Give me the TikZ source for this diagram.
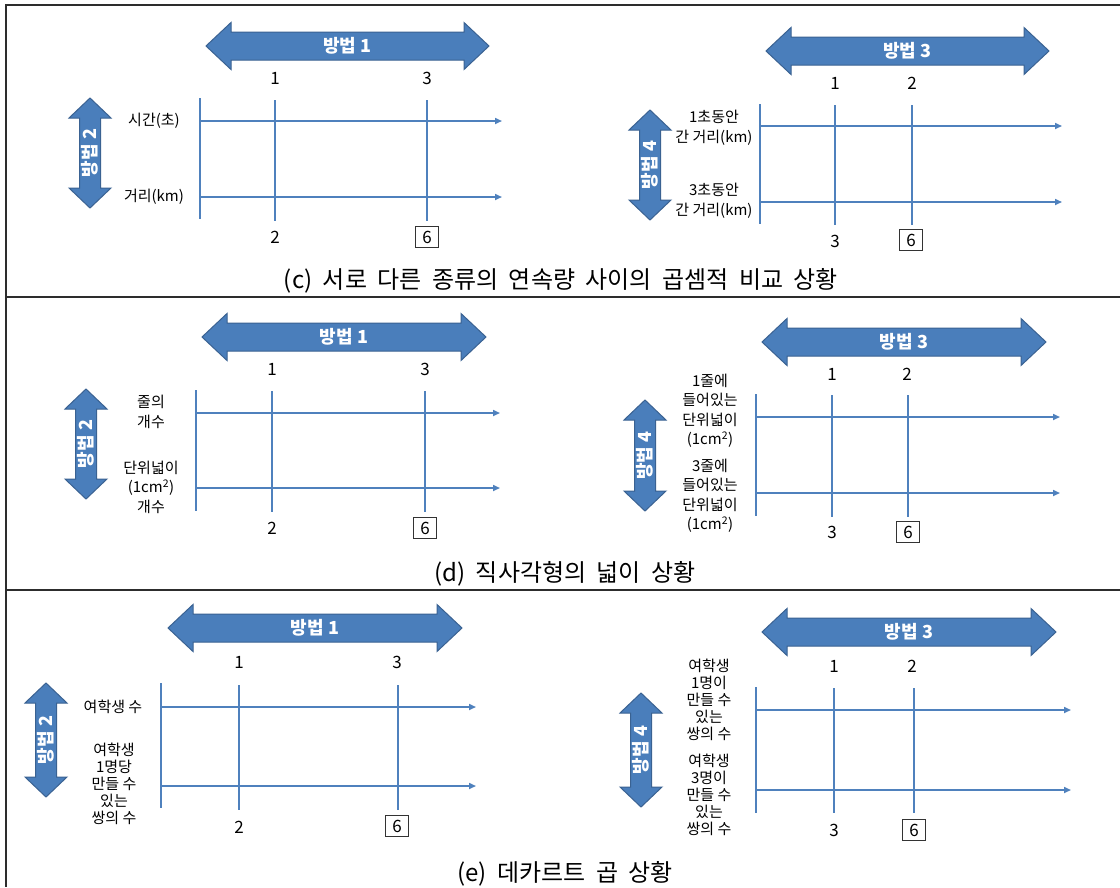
\documentclass[tikz,border=0pt]{standalone}
\usepackage{fontspec}
\setmainfont{Noto Sans CJK KR}
\usetikzlibrary{arrows.meta}
\definecolor{arrowfill}{RGB}{74,126,187}
\definecolor{arrowedge}{RGB}{58,98,146}
\definecolor{gridblue}{RGB}{79,129,189}
\definecolor{rulegray}{RGB}{45,45,45}
\tikzset{
  bigarrow/.style={fill=arrowfill, draw=arrowedge, line width=1pt, line join=miter},
  arrowtext/.style={text=white, font=\fontsize{18}{20}\selectfont\bfseries, inner sep=0pt},
  gridline/.style={draw=gridblue, line width=1.6pt},
  gridarrow/.style={gridline, -{Triangle[length=7pt,width=6pt]}},
  num/.style={font=\fontsize{17}{19}\selectfont, inner sep=0pt},
  boxnum/.style={num, draw=black!80, line width=0.8pt, minimum width=23pt, minimum height=21pt},
  lab/.style={font=\fontsize{15}{19.5}\selectfont, align=center, inner sep=0pt},
  labtight/.style={font=\fontsize{15}{17}\selectfont, align=center, inner sep=0pt},
  captiontext/.style={font=\fontsize{24}{26}\selectfont, inner sep=0pt},
  tablerule/.style={draw=rulegray, line width=2pt},
}
\newcommand{\csp}{\hspace{10.5pt}}
% horizontal double arrow: name, left tip x, right tip x, y, text
\newcommand{\dblH}[5]{%
  \fill[bigarrow] (#2,#4) -- ++(25,-23.5) -- ++(0,9.5) -- ({#3-25},{#4-14}) -- ++(0,-9.5)
    -- (#3,#4) -- ++(-25,23.5) -- ++(0,-9.5) -- ({#2+25},{#4+14}) -- ++(0,9.5) -- cycle;
  \node[arrowtext] (#1) at ({(#2+#3)/2},#4) {#5};
}
% vertical double arrow: name, x, top tip y, bottom tip y, text
\newcommand{\dblV}[5]{%
  \fill[bigarrow] (#2,#3) -- ++(21,20) -- ++(-10.5,0) -- ({#2+10.5},{#4-20}) -- ++(10.5,0)
    -- (#2,#4) -- ++(-21,-20) -- ++(10.5,0) -- ({#2-10.5},{#3+20}) -- ++(-10.5,0) -- cycle;
  \node[arrowtext, rotate=90] (#1) at (#2,{(#3+#4)/2}) {#5};
}
% vertical grid line: name, x, y top, y bottom
\newcommand{\gridV}[4]{%
  \coordinate (#1t) at (#2,#3); \coordinate (#1b) at (#2,#4);
  \draw[gridline] (#1t) -- (#1b);
}
% horizontal grid arrow: name, x start, x end, y
\newcommand{\gridH}[4]{%
  \coordinate (#1s) at (#2,#4); \coordinate (#1e) at (#3,#4);
  \draw[gridarrow] (#1s) -- (#1e);
}
\begin{document}
\begin{tikzpicture}[x=1pt,y=-1pt]
\useasboundingbox (0,0) rectangle (1120,887);
\fill[white] (0,0) rectangle (1120,887);

% table rules
\coordinate (tl) at (6,5); \coordinate (tr) at (1120,5); \coordinate (bl) at (6,887);
\coordinate (r1l) at (6,297); \coordinate (r1r) at (1120,297);
\coordinate (r2l) at (6,590); \coordinate (r2r) at (1120,590);
\draw[tablerule] (tr) -- (tl) -- (bl);
\draw[tablerule] (r1l) -- (r1r);
\draw[tablerule] (r2l) -- (r2r);

% ===== (c) left =====
\dblH{cl-m1}{206}{489}{46}{방법 1}
\dblV{cl-m2}{90}{98}{208}{방법 2}
\gridV{cl-ax}{200}{98}{219}
\gridV{cl-v1}{275}{100}{221}
\gridV{cl-v2}{427}{100}{221}
\gridH{cl-h1}{200}{502}{121}
\gridH{cl-h2}{200}{502}{197}
\node[num] (cl-n1) at (275,78) {1};
\node[num] (cl-n3) at (427,78) {3};
\node[num] (cl-n2) at (275,237) {2};
\node[boxnum] (cl-n6) at (427,237) {6};
\node[lab] (cl-l1) at (154,121) {시간(초)};
\node[lab] (cl-l2) at (154,197) {거리(km)};

% ===== (c) right =====
\dblH{cr-m3}{766}{1049}{51}{방법 3}
\dblV{cr-m4}{650}{110}{220}{방법 4}
\gridV{cr-ax}{760}{104}{224}
\gridV{cr-v1}{835}{105}{225}
\gridV{cr-v2}{912}{105}{225}
\gridH{cr-h1}{760}{1062}{126}
\gridH{cr-h2}{760}{1062}{202}
\node[num] (cr-n1) at (835,83) {1};
\node[num] (cr-n2) at (912,83) {2};
\node[num] (cr-n3) at (835,241) {3};
\node[boxnum] (cr-n6) at (911,240) {6};
\node[lab] (cr-l1) at (714,128) {1초동안\\간 거리(km)};
\node[lab] (cr-l2) at (714,201) {3초동안\\간 거리(km)};

\node[captiontext] (cap-c) at (561,281) {(c)\csp 서로\csp 다른\csp 종류의\csp 연속량\csp 사이의\csp 곱셈적\csp 비교\csp 상황};

% ===== (d) left =====
\dblH{dl-m1}{202}{486}{337}{방법 1}
\dblV{dl-m2}{86}{389}{499}{방법 2}
\gridV{dl-ax}{196}{390}{511}
\gridV{dl-v1}{272}{391}{512}
\gridV{dl-v2}{425}{391}{512}
\gridH{dl-h1}{196}{500}{413}
\gridH{dl-h2}{196}{500}{488}
\node[num] (dl-n1) at (272,369) {1};
\node[num] (dl-n3) at (425,369) {3};
\node[num] (dl-n2) at (272,528) {2};
\node[boxnum] (dl-n6) at (425,528) {6};
\node[lab] (dl-l1) at (151,412) {줄의\\개수};
\node[lab] (dl-l2) at (151,487) {단위넓이\\(1cm\textsuperscript{2})\\개수};

% ===== (d) right =====
\dblH{dr-m3}{762}{1046}{342}{방법 3}
\dblV{dr-m4}{645}{400}{511}{방법 4}
\gridV{dr-ax}{756}{394}{516}
\gridV{dr-v1}{832}{395}{517}
\gridV{dr-v2}{908}{395}{517}
\gridH{dr-h1}{756}{1060}{417}
\gridH{dr-h2}{756}{1060}{493}
\node[num] (dr-n1) at (832,374) {1};
\node[num] (dr-n2) at (907,374) {2};
\node[num] (dr-n3) at (832,532) {3};
\node[boxnum] (dr-n6) at (908,532) {6};
\node[lab] (dr-l1) at (710,411) {1줄에\\들어있는\\단위넓이\\(1cm\textsuperscript{2})};
\node[lab] (dr-l2) at (710,496) {3줄에\\들어있는\\단위넓이\\(1cm\textsuperscript{2})};

\node[captiontext] (cap-d) at (565,574) {(d)\csp 직사각형의\csp 넓이\csp 상황};

% ===== (e) left =====
\dblH{el-m1}{168}{462}{628}{방법 1}
\dblV{el-m2}{46}{683}{797}{방법 2}
\gridV{el-ax}{161}{683}{808}
\gridV{el-v1}{239}{685}{810}
\gridV{el-v2}{398}{685}{810}
\gridH{el-h1}{161}{476}{707}
\gridH{el-h2}{161}{476}{786}
\node[num] (el-n1) at (239,662) {1};
\node[num] (el-n3) at (397,662) {3};
\node[num] (el-n2) at (239,827) {2};
\node[boxnum] (el-n6) at (397,826) {6};
\node[lab] (el-l1) at (113,707) {여학생 수};
\node[labtight] (el-l2) at (114,784) {여학생\\1명당\\만들 수\\있는\\쌍의 수};

% ===== (e) right =====
\dblH{er-m3}{762}{1056}{632}{방법 3}
\dblV{er-m4}{641}{693}{807}{방법 4}
\gridV{er-ax}{756}{687}{813}
\gridV{er-v1}{834}{688}{813}
\gridV{er-v2}{914}{688}{813}
\gridH{er-h1}{756}{1071}{710}
\gridH{er-h2}{756}{1071}{790}
\node[num] (er-n1) at (834,666) {1};
\node[num] (er-n2) at (912,666) {2};
\node[num] (er-n3) at (834,830) {3};
\node[boxnum] (er-n6) at (914,830) {6};
\node[labtight] (er-l1) at (709,700) {여학생\\1명이\\만들 수\\있는\\쌍의 수};
\node[labtight] (er-l2) at (709,795) {여학생\\3명이\\만들 수\\있는\\쌍의 수};

\node[captiontext] (cap-e) at (565,874) {(e)\csp 데카르트\csp 곱\csp 상황};
\end{tikzpicture}
\end{document}
